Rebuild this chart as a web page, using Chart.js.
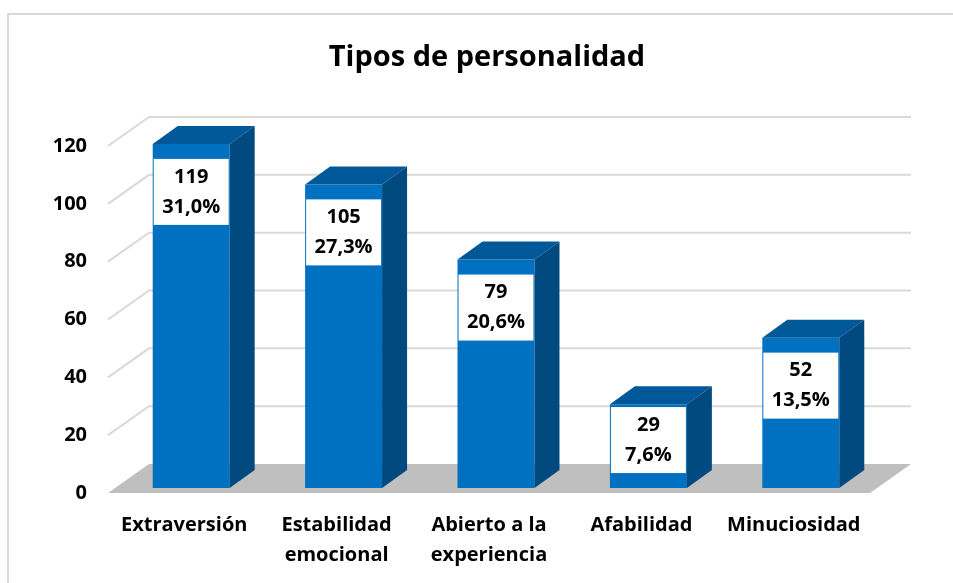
<!DOCTYPE html>
<html>
<head>
<meta charset="utf-8">
<script src="https://cdn.jsdelivr.net/npm/chart.js@4"></script>
<style>
  html, body { margin: 0; padding: 0; background: #fff; }
</style>
</head>
<body>
<canvas id="chart" width="953" height="583"></canvas>
<script>
  // Data
  const chartTitle = "Tipos de personalidad";
  const categories = [["Extraversión"], ["Estabilidad", "emocional"], ["Abierto a la", "experiencia"], ["Afabilidad"], ["Minuciosidad"]];
  const counts = [119, 105, 79, 29, 52];
  const percentLabels = ["31,0%", "27,3%", "20,6%", "7,6%", "13,5%"];
  const yTicks = [0, 20, 40, 60, 80, 100, 120];

  // 3D look offsets (relative to the bar plane)
  const BAR_DEPTH = { dx: 25, dy: -18 };
  const FRONT = { dx: -7, dy: 5 };
  const BACK = { dx: 34, dy: -24 };

  const FONT = "'Open Sans'";

  const scene3d = {
    id: "scene3d",
    beforeDraw(chart) {
      const ctx = chart.ctx;
      ctx.save();
      ctx.fillStyle = "#fff";
      ctx.fillRect(0, 0, chart.width, chart.height);
      ctx.strokeStyle = "#d9d9d9";
      ctx.lineWidth = 2;
      ctx.strokeRect(8, 14, chart.width + 10, chart.height + 10);
      // title
      ctx.fillStyle = "#000";
      ctx.font = "bold 29px " + FONT;
      ctx.textAlign = "center";
      ctx.textBaseline = "middle";
      ctx.fillText(chartTitle, 487, 58);
      ctx.restore();
    },
    beforeDatasetsDraw(chart) {
      const { ctx, chartArea: a, scales: { y } } = chart;
      ctx.save();
      // floor
      const y0 = y.getPixelForValue(0);
      ctx.fillStyle = "#bfbfbf";
      ctx.beginPath();
      ctx.moveTo(a.left + FRONT.dx, y0 + FRONT.dy);
      ctx.lineTo(a.right + FRONT.dx, y0 + FRONT.dy);
      ctx.lineTo(a.right + BACK.dx, y0 + BACK.dy);
      ctx.lineTo(a.left + BACK.dx, y0 + BACK.dy);
      ctx.closePath();
      ctx.fill();
      // side wall + back wall gridlines
      ctx.strokeStyle = "#d9d9d9";
      ctx.lineWidth = 2;
      yTicks.forEach(v => {
        if (v === 0) return;
        const py = y.getPixelForValue(v);
        ctx.beginPath();
        ctx.moveTo(a.left + FRONT.dx, py + FRONT.dy);
        ctx.lineTo(a.left + BACK.dx, py + BACK.dy);
        ctx.lineTo(a.right + BACK.dx, py + BACK.dy);
        ctx.stroke();
      });
      ctx.restore();
    },
    afterDatasetsDraw(chart) {
      const ctx = chart.ctx;
      const meta = chart.getDatasetMeta(0);
      ctx.save();
      meta.data.forEach((bar, i) => {
        const w = bar.width;
        const l = bar.x - w / 2, r = bar.x + w / 2;
        const top = bar.y, bottom = bar.base;
        // side
        ctx.fillStyle = "#004a80";
        ctx.beginPath();
        ctx.moveTo(r, top);
        ctx.lineTo(r + BAR_DEPTH.dx, top + BAR_DEPTH.dy);
        ctx.lineTo(r + BAR_DEPTH.dx, bottom + BAR_DEPTH.dy);
        ctx.lineTo(r, bottom);
        ctx.closePath();
        ctx.fill();
        // top
        ctx.fillStyle = "#005899";
        ctx.beginPath();
        ctx.moveTo(l, top);
        ctx.lineTo(l + BAR_DEPTH.dx, top + BAR_DEPTH.dy);
        ctx.lineTo(r + BAR_DEPTH.dx, top + BAR_DEPTH.dy);
        ctx.lineTo(r, top);
        ctx.closePath();
        ctx.fill();

        // value label box
        const h = 66;
        const cy = Math.min(top + 48, (top + bottom) / 2 - 6);
        ctx.fillStyle = "#fff";
        ctx.fillRect(l + 1, cy - h / 2, w - 2, h);
        ctx.fillStyle = "#000";
        ctx.font = "bold 20px " + FONT;
        ctx.textAlign = "center";
        ctx.textBaseline = "middle";
        ctx.fillText(String(counts[i]), bar.x, cy - 15);
        ctx.fillText(percentLabels[i], bar.x, cy + 15);
      });
      ctx.restore();
    }
  };

  const ctx = document.getElementById("chart").getContext("2d");
  new Chart(ctx, {
    type: "bar",
    data: {
      labels: categories,
      datasets: [{
        label: chartTitle,
        data: counts,
        backgroundColor: "#0070c0",
        borderWidth: 0,
        barPercentage: 0.505,
        categoryPercentage: 1
      }]
    },
    options: {
      responsive: false,
      animation: false,
      devicePixelRatio: 1,
      layout: { padding: { left: 30, right: 76, top: 141, bottom: 0 } },
      scales: {
        x: {
          grid: { display: false, drawTicks: false },
          border: { display: false },
          ticks: {
            color: "#000",
            font: { family: FONT, size: 20, weight: "bold", lineHeight: 1.5 },
            padding: 22,
            labelOffset: -7,
            maxRotation: 0,
            autoSkip: false
          },
          afterFit(s) { s.height = 95; }
        },
        y: {
          min: yTicks[0],
          max: yTicks[yTicks.length - 1],
          grid: { display: false, drawTicks: false },
          border: { display: false },
          ticks: {
            stepSize: 20,
            color: "#000",
            font: { family: FONT, size: 20, weight: "bold" },
            padding: 28,
            labelOffset: 5
          },
          afterFit(s) { s.width = 85; }
        }
      },
      plugins: {
        legend: { display: false },
        tooltip: { enabled: false },
        title: { display: false }
      }
    },
    plugins: [scene3d]
  });
</script>
</body>
</html>
